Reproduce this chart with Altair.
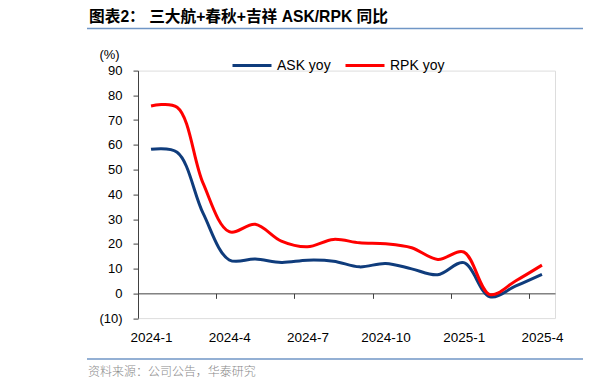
import json
import altair as alt
import pandas as pd

months = ["2024-1", "2024-2", "2024-3", "2024-4", "2024-5", "2024-6", "2024-7", "2024-8",
          "2024-9", "2024-10", "2024-11", "2024-12", "2025-1", "2025-2", "2025-3", "2025-4"]
ask_yoy = [58.2, 57.0, 32.3, 13.5, 13.9, 12.5, 13.4, 13.0, 10.7, 12.1, 9.9, 7.5, 12.4, -1.4, 3.0, 7.7]
rpk_yoy = [75.7, 75.2, 44.4, 24.9, 27.9, 21.1, 18.8, 21.8, 20.4, 20.0, 18.4, 13.7, 16.7, -0.5, 5.1, 11.4]
series_names = ["ASK yoy", "RPK yoy"]
series_colors = ["#0f3c7c", "#ff0000"]
y_ticks = list(range(-10, 91, 10))
x_label_idx = [0, 3, 6, 9, 12, 15]

title_text = "图表2：  三大航+春秋+吉祥 ASK/RPK 同比"
source_text = "资料来源：公司公告，华泰研究"

rows = []
for i, m in enumerate(months):
    rows.append({"i": i, "month": m, "series": series_names[0], "value": ask_yoy[i]})
    rows.append({"i": i, "month": m, "series": series_names[1], "value": rpk_yoy[i]})
df = pd.DataFrame(rows)

LATIN = "Liberation Sans, Arial, Noto Sans CJK SC"
PLOT_W = 417
PLOT_H = 247.5
half_band = PLOT_W / len(months) / 2

label_expr = json.dumps(months) + "[datum.value]"

lines = alt.Chart(df).mark_line(interpolate="catmull-rom", strokeWidth=3).encode(
    x=alt.X(
        "i:Q",
        scale=alt.Scale(domain=[-0.5, len(months) - 0.5], nice=False, zero=False),
        axis=alt.Axis(
            values=x_label_idx,
            labelExpr=label_expr,
            grid=False,
            title=None,
            offset=-PLOT_H * 10 / 100,
            tickSize=5,
            tickOffset=-half_band,
            labelOffset=half_band,
            labelPadding=32,
            labelFlush=False,
            labelOverlap=False,
            labelFont=LATIN,
            labelFontSize=13.5,
            labelColor="#000000",
            domainColor="#404040",
            tickColor="#404040",
        ),
    ),
    y=alt.Y(
        "value:Q",
        scale=alt.Scale(domain=[-10, 90], nice=False, zero=False),
        axis=alt.Axis(
            values=y_ticks,
            labelExpr="datum.value < 0 ? '(' + abs(datum.value) + ')' : datum.value",
            grid=False,
            tickSize=5,
            labelPadding=11,
            labelFont=LATIN,
            labelFontSize=13,
            labelColor="#000000",
            domainColor="#404040",
            tickColor="#404040",
            title="(%)",
            titleAngle=0,
            titleX=-29,
            titleY=-15.6,
            titleAlign="center",
            titleBaseline="middle",
            titleFont=LATIN,
            titleFontSize=13,
            titleFontWeight="normal",
            titleColor="#000000",
        ),
    ),
    color=alt.Color(
        "series:N",
        scale=alt.Scale(domain=series_names, range=series_colors),
        legend=alt.Legend(
            orient="none",
            legendX=93,
            legendY=-26,
            direction="horizontal",
            title=None,
            symbolType="stroke",
            symbolSize=1521,
            symbolStrokeWidth=3,
            labelFont=LATIN,
            labelFontSize=14,
            labelColor="#000000",
            labelOffset=4,
            columnPadding=8,
            padding=0,
        ),
    ),
)

one = pd.DataFrame({"k": [0]})

top_rule = alt.Chart(one).mark_rule(color="#7096c6", strokeWidth=1.5).encode(
    x=alt.value(-51), x2=alt.value(445), y=alt.value(-42)
)
bottom_rule = alt.Chart(one).mark_rule(color="#7096c6", strokeWidth=1.5).encode(
    x=alt.value(-51), x2=alt.value(445), y=alt.value(288.5)
)
title_mark = alt.Chart(one).mark_text(
    align="left", baseline="middle", font=LATIN, fontSize=15.7, fontWeight="bold", color="#000000"
).encode(x=alt.value(-49), y=alt.value(-54), text=alt.value(title_text))
source_mark = alt.Chart(one).mark_text(
    align="left", baseline="middle", font="Noto Sans CJK SC", fontSize=12, fontWeight=300, color="#8a8a8a"
).encode(x=alt.value(-50), y=alt.value(301.5), text=alt.value(source_text))

chart = alt.layer(lines, top_rule, bottom_rule, title_mark, source_mark).properties(
    width=PLOT_W,
    height=PLOT_H,
    autosize=alt.AutoSizeParams(type="none"),
    padding={"left": 130, "top": 62.6, "right": 50, "bottom": 70},
).configure_view(stroke=None).configure(background="#ffffff")

chart.save("out.html", embed_options={"renderer": "svg", "actions": False})
